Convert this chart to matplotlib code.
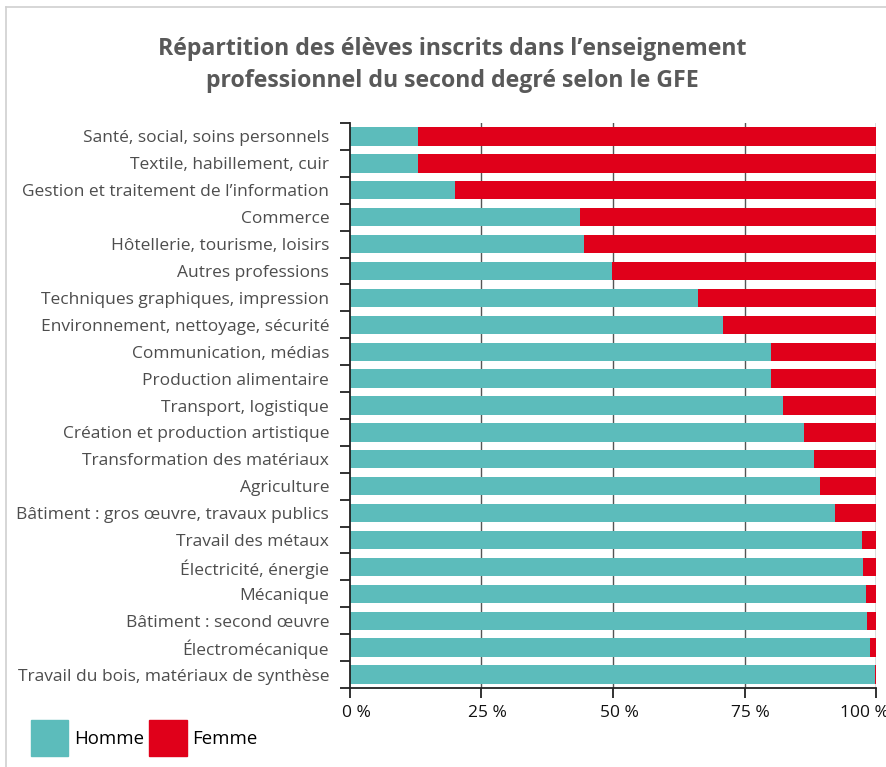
import numpy as np
import matplotlib.pyplot as plt
from matplotlib.lines import Line2D
from matplotlib.transforms import ScaledTranslation

plt.rcParams['font.family'] = ['Open Sans', 'DejaVu Sans']

# Groupes de formation-emploi (du haut vers le bas)
categories = [
    "Santé, social, soins personnels",
    "Textile, habillement, cuir",
    "Gestion et traitement de l\u2019information",
    "Commerce",
    "Hôtellerie, tourisme, loisirs",
    "Autres professions",
    "Techniques graphiques, impression",
    "Environnement, nettoyage, sécurité",
    "Communication, médias",
    "Production alimentaire",
    "Transport, logistique",
    "Création et production artistique",
    "Transformation des matériaux",
    "Agriculture",
    "Bâtiment : gros œuvre, travaux publics",
    "Travail des métaux",
    "Électricité, énergie",
    "Mécanique",
    "Bâtiment : second œuvre",
    "Électromécanique",
    "Travail du bois, matériaux de synthèse",
]

# part des garçons en %
homme = [13.0, 13.0, 19.9, 43.7, 44.4, 49.8, 66.1, 70.9, 80.0, 80.0, 82.3,
         86.3, 88.2, 89.3, 92.2, 97.3, 97.5, 98.1, 98.3, 98.8, 99.9]
femme = [100 - h for h in homme]

xticks = [0, 25, 50, 75, 100]
xtick_labels = ["0 %", "25 %", "50 %", "75 %", "100 %"]

COL_H = "#5cbcbb"
COL_F = "#e0001a"

fig = plt.figure(figsize=(8.87, 7.67), dpi=100)
ax = fig.add_axes([350 / 887, 1 - 688 / 767, 526 / 887, (688 - 123) / 767])

y = np.arange(len(categories))
ax.barh(y, homme, height=0.68, color=COL_H, zorder=2)
ax.barh(y, femme, left=homme, height=0.68, color=COL_F, zorder=2)

ax.set_xlim(0, 100)
ax.set_ylim(len(categories) - 0.5, -0.5)

# lignes verticales derrière les barres
for xv in xticks[1:]:
    ax.axvline(xv, color="#555555", linewidth=1.0, zorder=1)

ax.set_xticks(xticks)
ax.set_xticklabels(xtick_labels, fontsize=12.5, color="#111111")
ax.set_yticks(y)
ax.set_yticklabels(categories, fontsize=12.5, color="#4d4d4d")
ax.tick_params(axis="y", length=0, pad=15)
# petits traits aux limites des catégories
ax.set_yticks(np.arange(-0.5, len(categories)), minor=True)
ax.tick_params(axis="y", which="minor", length=7, width=1.3, color="#222222")
ax.tick_params(axis="x", length=7, width=1.3, color="#222222", pad=5)

# les étiquettes sont un peu décalées à droite ; "100 %" doit rester dans l'image
labels = ax.get_xticklabels()
for lab in labels[:-1]:
    lab.set_transform(lab.get_transform() + ScaledTranslation(6 / 100, 0, fig.dpi_scale_trans))
labels[-1].set_transform(labels[-1].get_transform() + ScaledTranslation(-12 / 100, 0, fig.dpi_scale_trans))

for side in ["top", "right"]:
    ax.spines[side].set_visible(False)
for side in ["left", "bottom"]:
    ax.spines[side].set_linewidth(1.3)
    ax.spines[side].set_color("#222222")

fig.text(452 / 887, 1 - 49 / 767,
         "Répartition des élèves inscrits dans l\u2019enseignement",
         ha="center", va="center", fontsize=16.7, fontweight="bold", color="#595959")
fig.text(452 / 887, 1 - 81 / 767,
         "professionnel du second degré selon le GFE",
         ha="center", va="center", fontsize=16.7, fontweight="bold", color="#595959")

# cadre gris clair haut / gauche
fig.add_artist(Line2D([6 / 887, 1], [1 - 7 / 767, 1 - 7 / 767],
                      transform=fig.transFigure, color="#d0d0d0", linewidth=1.2))
fig.add_artist(Line2D([6 / 887, 6 / 887], [0, 1 - 7 / 767],
                      transform=fig.transFigure, color="#d0d0d0", linewidth=1.2))

handles = [plt.Rectangle((0, 0), 1, 1, color=COL_H),
           plt.Rectangle((0, 0), 1, 1, color=COL_F)]
fig.legend(handles, ["Homme", "Femme"], loc="lower left",
           bbox_to_anchor=(31 / 887, 11 / 767), ncol=2, frameon=False,
           fontsize=13.4, handlelength=2.0, handleheight=2.6,
           handletextpad=0.3, columnspacing=0.3, borderpad=0, borderaxespad=0)

fig.savefig("out.png", dpi=100)
